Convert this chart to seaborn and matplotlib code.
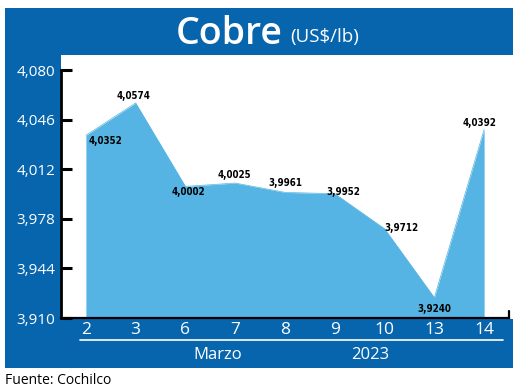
import matplotlib
matplotlib.use("Agg")
import numpy as np
import pandas as pd
import matplotlib.pyplot as plt
from matplotlib.patches import Rectangle
from matplotlib.lines import Line2D
import seaborn as sns

# data
dias = ["2", "3", "6", "7", "8", "9", "10", "13", "14"]
precios = [4.0352, 4.0574, 4.0002, 4.0025, 3.9961, 3.9952, 3.9712, 3.9240, 4.0392]
etiquetas = ["4,0352", "4,0574", "4,0002", "4,0025", "3,9961", "3,9952", "3,9712", "3,9240", "4,0392"]
y_ticks = [3.910, 3.944, 3.978, 4.012, 4.046, 4.080]
y_ticklabels = ["3,910", "3,944", "3,978", "4,012", "4,046", "4,080"]

# label offsets in pixels (dx, dy)
offsets = [(20, -6), (-2, 7), (3, -6), (-1, 8), (0, 9), (9, 2), (17, 1), (0, -11), (-5, 7)]

azul = "#0765ad"
celeste = "#55b4e3"

sns.set_style("white")
plt.rcParams["font.family"] = ["Open Sans", "DejaVu Sans"]

df = pd.DataFrame({"pos": np.arange(len(dias)), "precio": precios})

W, H = 520, 391
fig = plt.figure(figsize=(5.2, 3.91), dpi=100)

def rect(x0, y0, x1, y1, color):
    fig.add_artist(Rectangle((x0 / W, 1 - y1 / H), (x1 - x0) / W, (y1 - y0) / H,
                             transform=fig.transFigure, color=color, lw=0, zorder=0))

# blue frame
rect(5, 8, 513, 55, azul)
rect(5, 55, 61, 320, azul)
rect(5, 319, 513, 368, azul)

ax = fig.add_axes([61 / W, 1 - 318 / H, 448 / W, 248 / H])
ax.set_facecolor("none")

sns.lineplot(data=df, x="pos", y="precio", ax=ax, color=celeste, lw=0.5)
ax.fill_between(df["pos"], 3.910, df["precio"], color=celeste, lw=0)

ax.set_xlim(-0.5, 8.5)
ax.set_ylim(3.910, 4.080)
ax.set_yticks(y_ticks)
ax.set_yticklabels(y_ticklabels, color="white", fontsize=11)
ax.set_xticks(range(len(dias)))
ax.set_xticklabels(dias, color="white", fontsize=12.5)
ax.tick_params(axis="y", direction="in", length=8, width=2.2, color="black", pad=4, left=True)
ax.tick_params(axis="x", length=0, pad=3)
ax.set_xlabel("")
ax.set_ylabel("")

for s in ["top", "right"]:
    ax.spines[s].set_visible(False)
ax.spines["left"].set_linewidth(2)
ax.spines["bottom"].set_linewidth(1.6)
ax.spines["left"].set_color("black")
ax.spines["bottom"].set_color("black")
ax.plot([1, 1], [0, 0.03], transform=ax.transAxes, color="black", lw=1.6, clip_on=False)

for i, (v, t) in enumerate(zip(precios, etiquetas)):
    dx, dy = offsets[i]
    ax.annotate(t, (i, v), xytext=(dx, dy), textcoords="offset pixels",
                ha="center", va="center", fontsize=7, color="black",
                family="DejaVu Sans", stretch="condensed", fontweight="bold")

# title
fig.text(283 / W, 1 - 44 / H, "Cobre", color="white", fontsize=27, fontweight="semibold",
         ha="right", va="baseline")
fig.text(290 / W, 1 - 42 / H, "(US$/lb)", color="white", fontsize=13.5,
         ha="left", va="baseline")

# underline and bottom labels
fig.add_artist(Line2D([80 / W, 503 / W], [1 - 340 / H, 1 - 340 / H], color="white", lw=1.2,
                      transform=fig.transFigure))
fig.text(218 / W, 1 - 355 / H, "Marzo", color="white", fontsize=12, ha="center", va="center")
fig.text(370 / W, 1 - 355 / H, "2023", color="white", fontsize=12, ha="center", va="center")
fig.text(5 / W, 1 - 380 / H, "Fuente: Cochilco", color="black", fontsize=10, ha="left", va="center")

fig.savefig("out.png", dpi=100)
